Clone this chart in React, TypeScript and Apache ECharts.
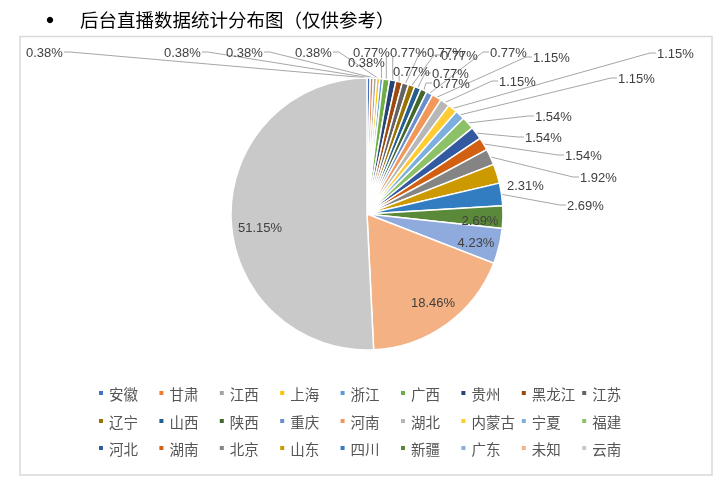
import React, { useEffect, useRef } from 'react';
import * as echarts from 'echarts';

// ---- data ----
const categories = [
  '安徽', '甘肃', '江西', '上海', '浙江', '广西', '贵州', '黑龙江', '江苏',
  '辽宁', '山西', '陕西', '重庆', '河南', '湖北', '内蒙古', '宁夏', '福建',
  '河北', '湖南', '北京', '山东', '四川', '新疆', '广东', '未知', '云南',
];
const percentValues = [
  0.38, 0.38, 0.38, 0.38, 0.38, 0.77, 0.77, 0.77, 0.77,
  0.77, 0.77, 0.77, 0.77, 1.15, 1.15, 1.15, 1.15, 1.54,
  1.54, 1.54, 1.92, 2.31, 2.69, 2.69, 4.23, 18.46, 51.15,
];
const legendRow1 = ['安徽', '甘肃', '江西', '上海', '浙江', '广西', '贵州', '黑龙江', '江苏'];
const legendRow2 = ['辽宁', '山西', '陕西', '重庆', '河南', '湖北', '内蒙古', '宁夏', '福建'];
const legendRow3 = ['河北', '湖南', '北京', '山东', '四川', '新疆', '广东', '未知', '云南'];
const titleText = '后台直播数据统计分布图（仅供参考）';

// ---- styles ----
const sliceColors = [
  '#4472C4', '#ED7D31', '#A5A5A5', '#FFC000', '#5B9BD5', '#70AD47', '#264478', '#9E480E', '#636363',
  '#997300', '#255E91', '#43682B', '#698ED0', '#F1975A', '#B7B7B7', '#FFCD33', '#7CAFDD', '#8CC168',
  '#335AA1', '#D26012', '#848484', '#CC9A00', '#327DC2', '#5A8A39', '#8FAADC', '#F4B183', '#C9C9C9',
];
const insideIdx = new Set([23, 24, 25, 26]);
const noLineIdx = new Set([21]);
// label layout anchors (left x / center y for outside labels, center for inside)
const labelAnchors: number[][] = [
  [26, 52], [164, 52], [226, 52], [295, 52], [348, 62],
  [353, 52], [390, 52], [393, 71], [427, 52], [441, 55], [432, 73], [433, 83], [490, 52],
  [533, 57], [499, 81], [657, 53], [618, 78],
  [535, 116], [525, 137], [565, 155], [580, 177], [507, 185], [567, 205],
  [480, 220], [476, 242], [433, 302], [260, 227],
];

const LABEL_FONT = "'Liberation Sans', Arial, sans-serif";
const CJK_FONT = "'Noto Sans CJK SC', 'Noto Sans', sans-serif";

export default function App() {
  const ref = useRef<HTMLDivElement>(null);
  useEffect(() => {
    if (!ref.current) return;
    const chart = echarts.init(ref.current, null, { renderer: 'svg' });
    const data = categories.map((name, i) => ({
      name,
      value: percentValues[i],
      itemStyle: { color: sliceColors[i] },
      labelLine: { show: !insideIdx.has(i) && !noLineIdx.has(i) },
    }));
    const legendCommon = {
      left: 97,
      padding: 0,
      orient: 'horizontal' as const,
      icon: 'rect',
      itemWidth: 6,
      itemHeight: 6,
      itemGap: 2.4,
      selectedMode: false,
      textStyle: { fontFamily: CJK_FONT, fontSize: 14.5, color: '#555555', width: 46, lineHeight: 20 },
    };
    chart.setOption({
      animation: false,
      graphic: [
        {
          type: 'rect',
          shape: { x: 20, y: 36.5, width: 692, height: 438.5 },
          style: { fill: 'none', stroke: '#d9d9d9', lineWidth: 1.5 },
          silent: true,
        },
        {
          type: 'circle',
          shape: { cx: 50, cy: 20, r: 3.2 },
          style: { fill: '#000' },
          silent: true,
        },
        {
          type: 'text', x: 80, y: 19,
          style: { text: titleText, fontSize: 18.5, fill: '#000', fontFamily: CJK_FONT, verticalAlign: 'middle' },
        },
      ],
      legend: [
        { ...legendCommon, top: 383, data: legendRow1 },
        { ...legendCommon, top: 411, data: legendRow2 },
        { ...legendCommon, top: 438, data: legendRow3 },
      ],
      series: [
        {
          type: 'pie',
          center: [367, 214],
          radius: 136,
          startAngle: 90,
          clockwise: true,
          avoidLabelOverlap: false,
          selectedMode: false,
          emphasis: { disabled: true },
          itemStyle: { borderColor: '#fff', borderWidth: 1.5 },
          label: {
            show: true,
            position: 'outside',
            formatter: (p: any) => `${p.value.toFixed(2)}%`,
            fontFamily: LABEL_FONT,
            fontSize: 13,
            color: '#404040',
          },
          labelLine: { show: true, length: 10, length2: 10, lineStyle: { color: '#a6a6a6', width: 1 } },
          labelLayout: (params: any) => {
            const i = params.dataIndex;
            const a = labelAnchors[i];
            if (insideIdx.has(i)) {
              return { x: a[0], y: a[1], align: 'center', verticalAlign: 'middle' };
            }
            const w = params.labelRect.width;
            const h = params.labelRect.height;
            const left = a[0];
            const cy = a[1];
            const right = left + w;
            const bottom = cy + h / 2 - 2;
            const res: any = { x: left, y: cy, align: 'left', verticalAlign: 'middle' };
            const pts = params.labelLinePoints;
            if (pts && pts.length) {
              const sx = pts[0][0];
              const sy = pts[0][1];
              if (sx < left - 4) {
                res.labelLinePoints = [[sx, sy], [left - 7, cy], [left - 1, cy]];
              } else if (sx > right + 4) {
                res.labelLinePoints = [[sx, sy], [right + 7, cy], [right + 1, cy]];
              } else {
                res.labelLinePoints = [[sx, sy], [sx, (sy + bottom) / 2], [sx, bottom]];
              }
            }
            return res;
          },
          data,
        },
      ],
    });
    return () => chart.dispose();
  }, []);
  return <div ref={ref} style={{ position: 'fixed', left: 0, top: 0, width: 728, height: 489 }} />;
}
